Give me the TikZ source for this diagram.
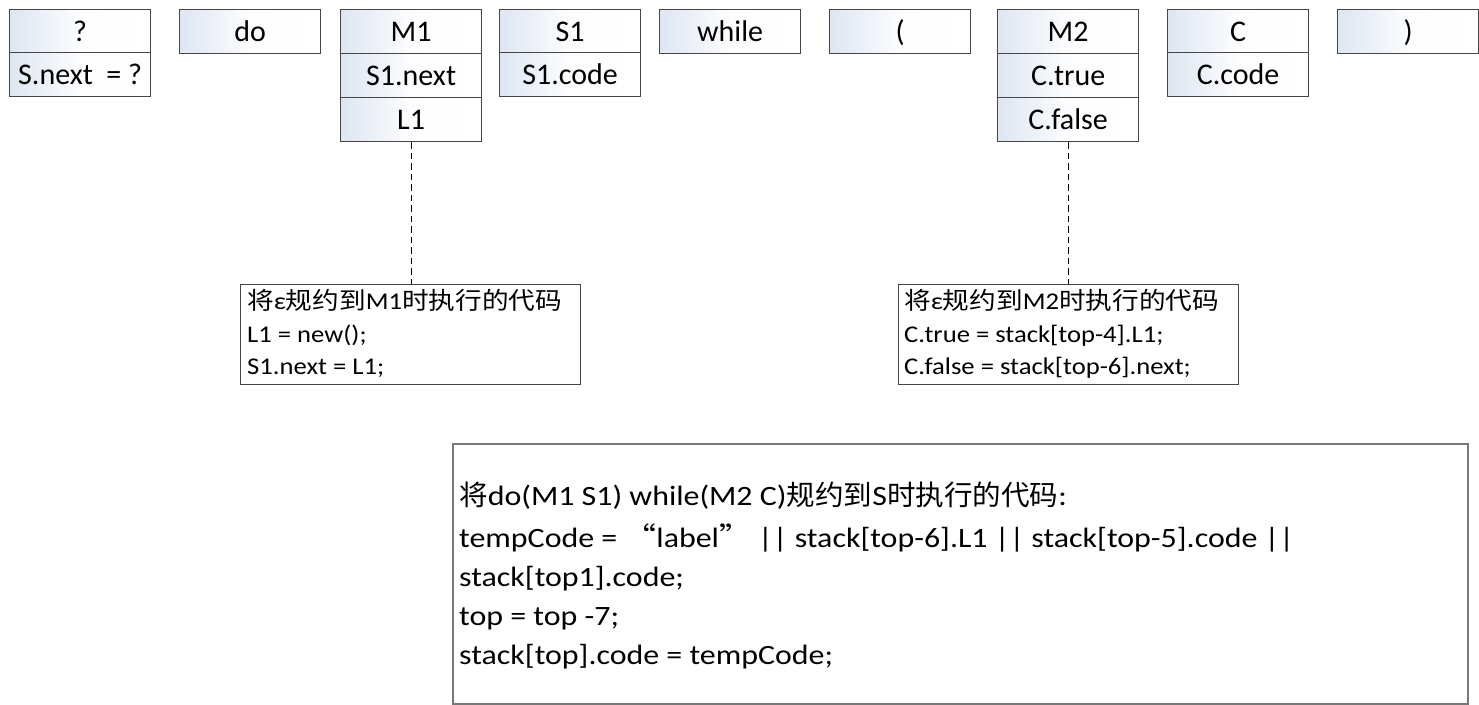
\documentclass[tikz,border=0pt]{standalone}
\usepackage{fontspec}
\setmainfont{Carlito}
\newfontfamily\cjk{Noto Sans CJK SC}
\newfontfamily\codefont[FakeStretch=1.11]{Carlito}
\newfontfamily\codecjk[FakeStretch=1.11]{Noto Sans CJK SC}
\newfontfamily\bigfont[FakeStretch=1.14]{Carlito}
\newfontfamily\bigcjk[FakeStretch=1.14]{Noto Sans CJK SC}
\newfontfamily\headcjk[FakeStretch=1.02]{Noto Sans CJK SC}
\definecolor{edge}{RGB}{70,70,70}
\definecolor{tint}{RGB}{222,230,242}
\definecolor{bigedge}{RGB}{120,120,120}
\tikzset{
  cell/.style={draw=edge, line width=1.3pt, left color=tint, right color=white, middle color=white!92!tint,
    minimum width=141pt, minimum height=44pt, inner sep=0pt, anchor=north west,
    text height=19.3pt, text depth=0pt, font=\fontsize{30}{34}\selectfont},
  codebox/.style={draw=edge, line width=1.2pt, fill=white, minimum width=340pt, minimum height=100pt, inner sep=0pt, anchor=north west},
  codeline/.style={anchor=base west, inner sep=0pt, font=\codefont\fontsize{24}{28}\selectfont},
  bigbox/.style={draw=bigedge, line width=2pt, minimum width=1015pt, minimum height=260pt, inner sep=0pt, anchor=north west},
  bigline/.style={anchor=base west, inner sep=0pt, font=\bigfont\fontsize{28}{32}\selectfont},
  link/.style={draw=black, line width=1.2pt, dash pattern=on 6.5pt off 4pt}
}
\begin{document}
\begin{tikzpicture}[x=1pt,y=-1pt]
\useasboundingbox (0,0) rectangle (1479,704);
% row of symbols
\node[cell] (qa) at (9,9) {?};
\node[cell] (qb) at (9,52) {S.next\ \ = ?};
\node[cell] (do) at (179,9) {do};
\node[cell] (m1a) at (340,9) {M1};
\node[cell] (m1b) at (340,53) {S1.next};
\node[cell] (m1c) at (340,97) {L1};
\node[cell] (s1a) at (499,9) {S1};
\node[cell] (s1b) at (499,52) {S1.code};
\node[cell] (wh) at (659,9) {while};
\node[cell] (lp) at (829,9) {(};
\node[cell] (m2a) at (997,9) {M2};
\node[cell] (m2b) at (997,53) {C.true};
\node[cell] (m2c) at (997,97) {C.false};
\node[cell] (ca) at (1167,9) {C};
\node[cell] (cb) at (1167,52) {C.code};
\node[cell] (rp) at (1337,9) {)};
% code boxes
\node[codebox] (b1) at (240,284) {};
\node[codeline] (b1h) at (247,309) {{\codecjk 将}ε{\codecjk 规约到}M1{\codecjk 时执行的代码}};
\node[codeline] (b1l1) at (247,342) {L1 = new();};
\node[codeline] (b1l2) at (247,374) {S1.next = L1;};
\node[codebox] (b2) at (898,284) {};
\node[codeline] (b2h) at (904,309) {{\codecjk 将}ε{\codecjk 规约到}M2{\codecjk 时执行的代码}};
\node[codeline] (b2l1) at (904,342) {C.true = stack[top-4].L1;};
\node[codeline] (b2l2) at (904,374) {C.false = stack[top-6].next;};
\draw[link] (m1c.south) -- (b1.north -| m1c.south);
\draw[link] (m2c.south) -- (b2.north -| m2c.south);
% big box
\node[bigbox] (big) at (452,443) {};
\node[bigline] (bh) at (459,505) {{\headcjk 将}do(M1 S1) while(M2 C){\headcjk 规约到}S{\headcjk 时执行的代码}:};
\node[bigline] (bl1) at (459,547) {tempCode = {\bigcjk “}label{\bigcjk ”}\ || stack[top-6].L1 || stack[top-5].code ||};
\node[bigline] (bl2) at (459,586) {stack[top1].code;};
\node[bigline] (bl3) at (459,625) {top = top -7;};
\node[bigline] (bl4) at (459,664) {stack[top].code = tempCode;};
\end{tikzpicture}
\end{document}
